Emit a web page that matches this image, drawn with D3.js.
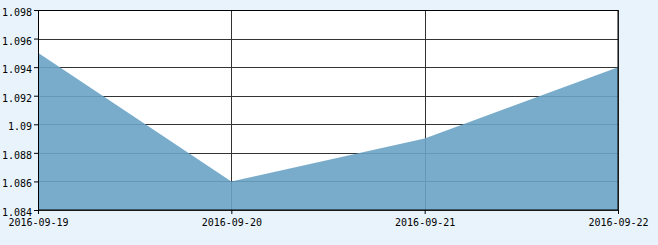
<!DOCTYPE html>
<html>
<head>
<meta charset="utf-8">
<script src="https://cdn.jsdelivr.net/npm/d3@7"></script>
<style>
  body { margin: 0; background: #e8f3fb; }
  svg { display: block; }
  .tick text { font-family: "DejaVu Sans Mono", monospace; font-size: 10px; fill: #000; }
</style>
</head>
<body>
<svg></svg>
<script>
// data
var dates = ["2016-09-19", "2016-09-20", "2016-09-21", "2016-09-22"];
var values = [1.095, 1.086, 1.089, 1.094];
var yTicks = [1.084, 1.086, 1.088, 1.09, 1.092, 1.094, 1.096, 1.098];

var margin = {top: 10, right: 40, bottom: 35, left: 38},
    width = 658 - margin.left - margin.right,
    height = 245 - margin.top - margin.bottom;

var svg = d3.select("svg")
    .attr("width", 658)
    .attr("height", 245)
    .append("g")
    .attr("transform", "translate(" + margin.left + "," + margin.top + ")");

var xScale = d3.scalePoint().domain(dates).range([0, width]);
var yScale = d3.scaleLinear().domain([1.084, 1.098]).range([height, 0]);

// plot background
svg.append("rect")
    .attr("width", width)
    .attr("height", height)
    .attr("fill", "#fff");

// grid
svg.append("g")
    .selectAll("line.h")
    .data(yTicks)
    .enter()
    .append("line")
    .attr("x1", 0).attr("x2", width)
    .attr("y1", function(d) { return Math.round(yScale(d)) + 0.5; })
    .attr("y2", function(d) { return Math.round(yScale(d)) + 0.5; })
    .attr("stroke", "#333");

svg.append("g")
    .selectAll("line.v")
    .data(dates)
    .enter()
    .append("line")
    .attr("y1", 0).attr("y2", height)
    .attr("x1", function(d) { return Math.round(xScale(d)) + 0.5; })
    .attr("x2", function(d) { return Math.round(xScale(d)) + 0.5; })
    .attr("stroke", "#333");

// area
var area = d3.area()
    .x(function(d, i) { return xScale(dates[i]); })
    .y0(height)
    .y1(function(d) { return yScale(d); });

svg.append("path")
    .datum(values)
    .attr("d", area)
    .attr("fill", "#6aa3c4")
    .attr("fill-opacity", 0.9);

// frame
svg.append("rect")
    .attr("x", 0.5).attr("y", 0.5)
    .attr("width", width - 0.5)
    .attr("height", height - 0.5)
    .attr("fill", "none")
    .attr("stroke", "#000");

// axes
var yAxis = d3.axisLeft(yScale)
    .tickValues(yTicks)
    .tickSize(4)
    .tickPadding(2)
    .tickFormat(function(d) { return d3.format(".3~f")(d); });

svg.append("g")
    .call(yAxis)
    .call(function(g) { g.select(".domain").remove(); })
    .call(function(g) { g.selectAll(".tick text").attr("dy", "0.55em"); })
    .call(function(g) { g.selectAll(".tick line").attr("stroke", "#000"); });

var xAxis = d3.axisBottom(xScale).tickSize(4).tickPadding(5);

svg.append("g")
    .attr("transform", "translate(0," + height + ")")
    .call(xAxis)
    .call(function(g) { g.select(".domain").remove(); })
    .call(function(g) { g.selectAll(".tick line").attr("stroke", "#000"); });
</script>
</body>
</html>
